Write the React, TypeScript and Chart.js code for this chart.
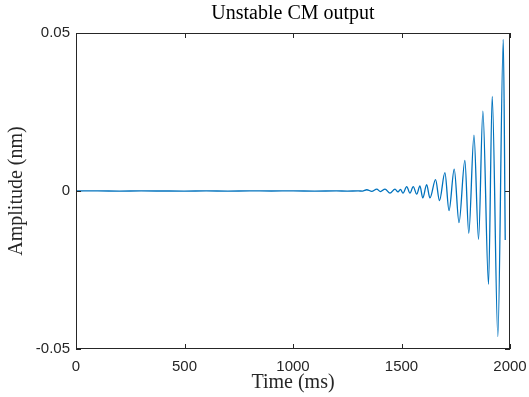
import React, { useEffect, useRef } from "react";
import { Chart, registerables } from "chart.js";

Chart.register(...registerables);

// ---- data ----
const timeMs = [
  0, 100, 200, 300, 400, 500, 600, 700, 800, 900, 1000, 1100, 1200, 1250, 1300, 1320,
  1340, 1363, 1386, 1403, 1424, 1447, 1470, 1484, 1495, 1507,
  1524, 1539, 1554, 1570, 1585, 1598, 1616, 1631, 1657, 1675,
  1700, 1719, 1743, 1765, 1792, 1810, 1834, 1855, 1875, 1901,
  1918, 1944, 1969, 1978,
];
const amplitudeNm = [
  0, 0.00002, -0.00002, 0.00002, 0, -0.00002, 0.00002, -0.00002, 0.00002, 0, 0.00002, -0.00002, 0.00003, -0.00003, 0.00004, -0.00004,
  0.0004, -0.0001, 0.0006, -0.0002, 0.0006, -0.0007, 0.0006, -0.0003, 0.0005, -0.0007,
  0.0014, -0.0007, 0.0014, -0.001, 0.0016, -0.0022, 0.002, -0.0022, 0.0036, -0.003,
  0.0058, -0.0062, 0.0069, -0.01, 0.0097, -0.0134, 0.0177, -0.0153, 0.0253, -0.0295,
  0.0299, -0.0461, 0.048, -0.0155,
];
const xTicks = [0, 500, 1000, 1500, 2000];
const yTicks = [-0.05, 0, 0.05];
const yTickLabels = ["-0.05", "0", "0.05"];
const chartTitle = "Unstable CM output";
const xLabel = "Time (ms)";
const yLabel = "Amplitude (nm)";

// ---- layout / style ----
const W = 529;
const H = 397;
const PLOT = { left: 76, right: 510, top: 33, bottom: 349 };
const AXIS_COLOR = "#262626";
const LINE_COLOR = "#0072BD";
const SERIF = "'Liberation Serif', 'Times New Roman', serif";
const SANS = "'Liberation Sans', Arial, Helvetica, sans-serif";

export default function App() {
  const ref = useRef<HTMLCanvasElement>(null);

  useEffect(() => {
    document.body.style.margin = "0";
    const canvas = ref.current;
    if (!canvas) return;

    const decor = {
      id: "decor",
      afterDraw(chart: any) {
        const { ctx, chartArea: a, scales } = chart;
        ctx.save();
        ctx.strokeStyle = AXIS_COLOR;
        ctx.lineWidth = 1;
        ctx.strokeRect(a.left + 0.5, a.top + 0.5, a.right - a.left - 1, a.bottom - a.top - 1);
        const tl = 5;
        ctx.beginPath();
        xTicks.forEach((v) => {
          const px = Math.round(scales.x.getPixelForValue(v)) + 0.5;
          ctx.moveTo(px, a.bottom);
          ctx.lineTo(px, a.bottom - tl);
          ctx.moveTo(px, a.top);
          ctx.lineTo(px, a.top + tl);
        });
        yTicks.forEach((v) => {
          const py = Math.round(scales.y.getPixelForValue(v)) + 0.5;
          ctx.moveTo(a.left, py);
          ctx.lineTo(a.left + tl, py);
          ctx.moveTo(a.right, py);
          ctx.lineTo(a.right - tl, py);
        });
        ctx.stroke();
        ctx.fillStyle = "#000";
        ctx.font = `20px ${SERIF}`;
        ctx.textAlign = "center";
        ctx.textBaseline = "middle";
        ctx.fillText(chartTitle, (a.left + a.right) / 2, 14);
        ctx.fillStyle = AXIS_COLOR;
        ctx.fillText(xLabel, (a.left + a.right) / 2, 383);
        ctx.translate(17, (a.top + a.bottom) / 2);
        ctx.rotate(-Math.PI / 2);
        ctx.fillText(yLabel, 0, 0);
        ctx.restore();
      },
    };

    const chart = new Chart(canvas, {
      type: "line",
      data: {
        datasets: [
          {
            data: timeMs.map((t, i) => ({ x: t, y: amplitudeNm[i] })),
            borderColor: LINE_COLOR,
            borderWidth: 1.3,
            pointRadius: 0,
            fill: false,
            cubicInterpolationMode: "monotone",
          },
        ],
      },
      options: {
        responsive: false,
        animation: false,
        layout: { padding: { left: 0, right: W - PLOT.right, top: PLOT.top, bottom: 0 } },
        plugins: {
          legend: { display: false },
          tooltip: { enabled: false },
          title: { display: false },
        },
        scales: {
          x: {
            type: "linear",
            min: 0,
            max: 2000,
            afterBuildTicks: (s: any) => {
              s.ticks = xTicks.map((v) => ({ value: v }));
            },
            grid: { display: false, drawTicks: false },
            border: { display: false },
            ticks: {
              color: AXIS_COLOR,
              font: { family: SANS, size: 15 },
              padding: 9,
              maxRotation: 0,
              autoSkip: false,
              callback: (v: any) => String(v),
            },
            afterFit: (s: any) => {
              s.height = H - PLOT.bottom;
              s.paddingLeft = 0;
              s.paddingRight = 0;
            },
          },
          y: {
            type: "linear",
            min: -0.05,
            max: 0.05,
            afterBuildTicks: (s: any) => {
              s.ticks = yTicks.map((v) => ({ value: v }));
            },
            grid: { display: false, drawTicks: false },
            border: { display: false },
            ticks: {
              color: AXIS_COLOR,
              font: { family: SANS, size: 15 },
              padding: 6,
              autoSkip: false,
              callback: (v: any) => {
                const i = yTicks.findIndex((t) => Math.abs(t - v) < 1e-9);
                return i >= 0 ? yTickLabels[i] : "";
              },
            },
            afterFit: (s: any) => {
              s.width = PLOT.left;
              s.paddingTop = 0;
              s.paddingBottom = 0;
            },
          },
        },
      },
      plugins: [decor],
    });

    return () => chart.destroy();
  }, []);

  return (
    <div style={{ position: "fixed", left: 0, top: 0, width: W, height: H, background: "#fff" }}>
      <canvas ref={ref} width={W} height={H} style={{ width: W, height: H }} />
    </div>
  );
}
